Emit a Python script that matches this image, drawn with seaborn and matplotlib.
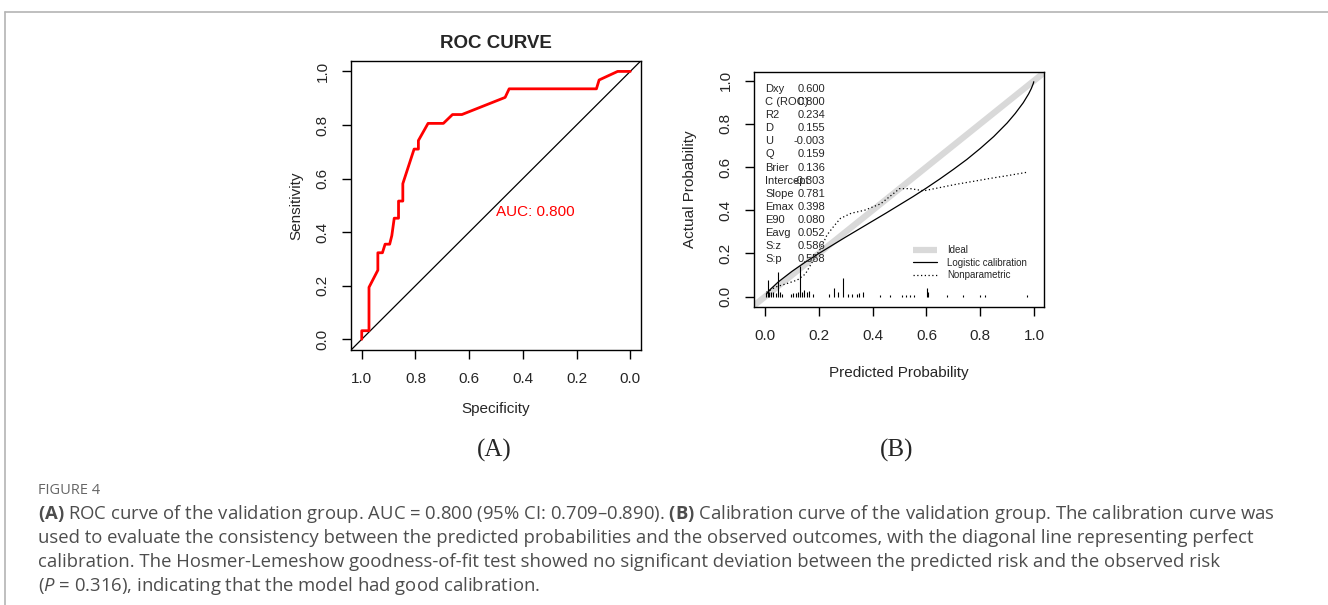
"""
Figure 4: ROC curve and calibration curve of the validation group
"""
import matplotlib
import matplotlib.pyplot as plt
import seaborn as sns
from matplotlib.lines import Line2D

matplotlib.use("Agg")

# --- ROC curve (panel A) ---
roc_specificity = [1.0, 1.0, 0.973, 0.973, 0.940, 0.940, 0.923, 0.913, 0.896, 0.888,
                   0.879, 0.863, 0.863, 0.847, 0.847, 0.805, 0.789, 0.789, 0.753, 0.696,
                   0.662, 0.627, 0.466, 0.451, 0.126, 0.116, 0.047, 0.0]
roc_sensitivity = [0.0, 0.032, 0.032, 0.194, 0.258, 0.323, 0.323, 0.355, 0.355, 0.387,
                   0.452, 0.452, 0.516, 0.516, 0.581, 0.710, 0.710, 0.742, 0.806, 0.806,
                   0.839, 0.839, 0.903, 0.935, 0.935, 0.968, 1.0, 1.0]
auc_text = "AUC: 0.800"
ticks = [0.0, 0.2, 0.4, 0.6, 0.8, 1.0]
tick_labels = ["0.0", "0.2", "0.4", "0.6", "0.8", "1.0"]

# --- calibration curve (panel B) ---
logistic_pred = [0.005, 0.02, 0.05, 0.1, 0.15, 0.2, 0.25, 0.3, 0.35, 0.4, 0.45, 0.5,
                 0.55, 0.6, 0.65, 0.7, 0.75, 0.8, 0.85, 0.9, 0.93, 0.96, 0.98, 0.99,
                 0.997, 0.999]
logistic_actual = [0.012, 0.034, 0.069, 0.117, 0.160, 0.200, 0.238, 0.276, 0.313, 0.350,
                   0.387, 0.425, 0.463, 0.503, 0.545, 0.589, 0.635, 0.686, 0.741, 0.804,
                   0.848, 0.898, 0.939, 0.964, 0.986, 0.995]
nonpar_pred = [0.005, 0.04, 0.08, 0.12, 0.15, 0.18, 0.21, 0.23, 0.255, 0.28, 0.32, 0.37,
               0.43, 0.47, 0.50, 0.54, 0.59, 0.65, 0.71, 0.78, 0.84, 0.90, 0.975]
nonpar_actual = [0.02, 0.045, 0.06, 0.077, 0.105, 0.17, 0.23, 0.285, 0.325, 0.362, 0.386,
                 0.40, 0.43, 0.47, 0.50, 0.50, 0.49, 0.505, 0.52, 0.535, 0.548, 0.56, 0.576]
rug_pred = [0.004, 0.010, 0.016, 0.022, 0.031, 0.040, 0.047, 0.056, 0.064, 0.097, 0.105,
            0.114, 0.124, 0.130, 0.139, 0.146, 0.155, 0.164, 0.180, 0.238, 0.258, 0.273,
            0.291, 0.310, 0.322, 0.341, 0.351, 0.363, 0.428, 0.465, 0.508, 0.524, 0.539,
            0.555, 0.601, 0.607, 0.675, 0.737, 0.799, 0.818, 0.973]
rug_height = [0.016, 0.077, 0.023, 0.023, 0.023, 0.016, 0.114, 0.020, 0.011, 0.011, 0.016,
              0.016, 0.023, 0.142, 0.023, 0.031, 0.023, 0.026, 0.011, 0.011, 0.039, 0.020,
              0.085, 0.011, 0.011, 0.011, 0.016, 0.023, 0.008, 0.008, 0.008, 0.006, 0.006,
              0.006, 0.039, 0.020, 0.006, 0.006, 0.006, 0.008, 0.006]
stat_names = ["Dxy", "C (ROC)", "R2", "D", "U", "Q", "Brier", "Intercept", "Slope",
              "Emax", "E90", "Eavg", "S:z", "S:p"]
stat_values = ["0.600", "0.800", "0.234", "0.155", "-0.003", "0.159", "0.136", "-0.303",
               "0.781", "0.398", "0.080", "0.052", "0.586", "0.558"]
legend_labels = ["Ideal", "Logistic calibration", "Nonparametric"]

caption_title = "FIGURE 4"
caption_lines = [
    r"$\mathbf{(A)}$ ROC curve of the validation group. AUC = 0.800 (95% CI: 0.709–0.890). "
    r"$\mathbf{(B)}$ Calibration curve of the validation group. The calibration curve was",
    "used to evaluate the consistency between the predicted probabilities and the observed "
    "outcomes, with the diagonal line representing perfect",
    "calibration. The Hosmer-Lemeshow goodness-of-fit test showed no significant deviation "
    "between the predicted risk and the observed risk",
    r"($\mathit{P}$ = 0.316), indicating that the model had good calibration.",
]

sns.set_style("ticks")
plt.rcParams["font.family"] = ["Liberation Sans", "DejaVu Sans"]
plt.rcParams["mathtext.fontset"] = "custom"
plt.rcParams["mathtext.rm"] = "Open Sans"
plt.rcParams["mathtext.bf"] = "Open Sans:bold"
plt.rcParams["mathtext.it"] = "Open Sans:italic"

W, H = 1328, 605
fig = plt.figure(figsize=(W / 100, H / 100), dpi=100)


def style_axes(ax):
    for s in ax.spines.values():
        s.set_linewidth(1.0)
        s.set_color("black")
    ax.tick_params(axis="both", length=6.5, width=1.0, color="black",
                   labelsize=11, pad=9)
    ax.set_xticks(ticks)
    ax.set_yticks(ticks)
    ax.set_yticklabels(tick_labels, rotation=90, va="center")


# ---------- Panel A: ROC ----------
ax1 = fig.add_axes([351 / W, 1 - 350 / H, 290 / W, 289.3 / H])
ax1.axline((1, 0), (0, 1), color="black", lw=0.9)
sns.lineplot(x=roc_specificity, y=roc_sensitivity, sort=False, estimator=None,
             color="#ff0000", lw=2.0, ax=ax1)
ax1.set_xlim(1.04, -0.04)
ax1.set_ylim(-0.04, 1.04)
style_axes(ax1)
ax1.set_xticklabels(tick_labels)
ax1.text(0.5, 0.5, auc_text, color="#ff0000", fontsize=11, ha="left", va="top")
ax1.set_title("ROC CURVE", fontsize=13.5, fontweight="bold", pad=9)
ax1.set_xlabel("Specificity", fontsize=11, labelpad=12)
ax1.set_ylabel("Sensitivity", fontsize=11, labelpad=9)

# ---------- Panel B: calibration ----------
ax2 = fig.add_axes([754.3 / W, 1 - 307 / H, 289.7 / W, 235 / H])
ax2.axline((0, 0), (1, 1), color="#d9d9d9", lw=4.5, solid_capstyle="butt")
sns.lineplot(x=logistic_pred, y=logistic_actual, sort=False, estimator=None,
             color="black", lw=0.9, ax=ax2)
sns.lineplot(x=nonpar_pred, y=nonpar_actual, sort=False, estimator=None,
             color="black", lw=0.9, linestyle=(0, (1, 2)), ax=ax2)
ax2.vlines(rug_pred, 0, rug_height, color="black", lw=0.8)
ax2.set_xlim(-0.04, 1.037)
ax2.set_ylim(-0.048, 1.04)
style_axes(ax2)
ax2.set_xticklabels(tick_labels)
ax2.set_xlabel("Predicted Probability", fontsize=11, labelpad=17)
ax2.set_ylabel("Actual Probability", fontsize=11, labelpad=16)

# statistics block (as printed by val.prob; "Intercept" runs into its value there too)
for i, (name, val) in enumerate(zip(stat_names, stat_values)):
    yy = 0.962 - i * 0.0607
    ax2.text(0.0, yy, name, fontsize=8, ha="left", va="center")
    ax2.text(0.223, yy, val, fontsize=8, ha="right", va="center")

handles = [
    Line2D([], [], color="#d9d9d9", lw=4.5, solid_capstyle="butt"),
    Line2D([], [], color="black", lw=0.9),
    Line2D([], [], color="black", lw=0.9, linestyle=(0, (1, 2))),
]
ax2.legend(handles, legend_labels, loc="upper left", bbox_to_anchor=(0.548, 0.262),
           frameon=False, fontsize=7, handlelength=2.5, handletextpad=1.0,
           labelspacing=0.25, borderpad=0, borderaxespad=0)

# panel letters
fig.text(494 / W, 1 - 450 / H, "(A)", family="Liberation Serif", fontsize=18,
         ha="center", va="center")
fig.text(897 / W, 1 - 450 / H, "(B)", family="Liberation Serif", fontsize=18,
         ha="center", va="center")

# caption
fig.text(38 / W, 1 - 491 / H, caption_title, family="Open Sans", fontsize=10.5,
         color="#666666", ha="left", va="center")
for i, line in enumerate(caption_lines):
    fig.text(38 / W, 1 - (519 + 24 * i) / H, line, family="Open Sans", fontsize=13.3,
             color="#4d4d4d", ha="left", va="baseline")

# light frame around figure
fig.add_artist(Line2D([5 / W, 1], [1 - 12 / H] * 2, transform=fig.transFigure,
                      color="#b4b4b4", lw=1.2))
fig.add_artist(Line2D([5 / W] * 2, [0, 1 - 12 / H], transform=fig.transFigure,
                      color="#b4b4b4", lw=1.2))

fig.savefig("out.png", dpi=100)
